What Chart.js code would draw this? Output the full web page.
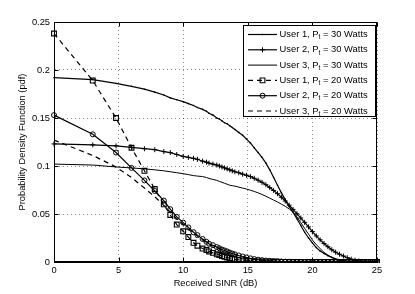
<!DOCTYPE html>
<html>
<head>
<meta charset="utf-8">
<script src="https://cdn.jsdelivr.net/npm/chart.js@4.4.0/dist/chart.umd.min.js"></script>
<style>
  html, body { margin: 0; padding: 0; background: #fff; }
  #wrap { width: 415px; height: 294px; }
</style>
</head>
<body>
<div id="wrap"><canvas id="pdfChart" width="415" height="294"></canvas></div>
<script>
// received SINR (dB) where the curves are sampled / marked
const sinrDb = [0, 3.0, 4.8, 6.0, 7.0, 7.8, 8.5, 9.0, 9.5, 10.0,
  10.4, 10.8, 11.1, 11.5, 11.8, 12.0, 12.3, 12.6, 12.8, 13.0,
  13.2, 13.4, 13.6, 13.8, 14.0, 14.3, 14.6, 14.9, 15.2, 15.5,
  15.8, 16.1, 16.4, 16.7, 17.0, 17.3, 17.6, 17.9, 18.2, 18.5,
  18.8, 19.1, 19.4, 19.7, 20.0, 20.3, 20.6, 20.9, 21.2, 21.5,
  21.8, 22.1, 22.4, 22.7, 23.0, 23.3, 23.6, 23.9, 24.2, 24.5,
  24.8, 25.0];

const user1Pt30 = [0.192, 0.190, 0.186, 0.183, 0.180, 0.177, 0.174, 0.171, 0.169, 0.167,
  0.165, 0.163, 0.161, 0.159, 0.157, 0.155, 0.153, 0.150, 0.149, 0.147,
  0.145, 0.144, 0.142, 0.140, 0.138, 0.135, 0.132, 0.128, 0.124, 0.119,
  0.114, 0.109, 0.103, 0.096, 0.088, 0.080, 0.072, 0.065, 0.058, 0.052,
  0.045, 0.038, 0.031, 0.025, 0.020, 0.015, 0.0115, 0.0088, 0.0066, 0.0048,
  0.0033, 0.0022, 0.0013, 0.0007, 0.0003, 0.0001, 0, 0, 0, 0,
  0, 0];

const user2Pt30 = [0.123, 0.122, 0.121, 0.1195, 0.118, 0.117, 0.115, 0.114, 0.112, 0.110,
  0.109, 0.108, 0.107, 0.105, 0.104, 0.103, 0.102, 0.101, 0.100, 0.099,
  0.098, 0.097, 0.096, 0.095, 0.094, 0.093, 0.0915, 0.0903, 0.089, 0.0872,
  0.0852, 0.083, 0.0805, 0.0775, 0.0745, 0.0712, 0.0675, 0.0635, 0.0592, 0.0548,
  0.0503, 0.0458, 0.0413, 0.0365, 0.0317, 0.0272, 0.0231, 0.0193, 0.0159, 0.0128,
  0.0102, 0.0081, 0.0062, 0.0045, 0.003, 0.0019, 0.0011, 0.0006, 0.0003, 0.0001,
  0, 0];

const user3Pt30 = [0.102, 0.101, 0.099, 0.098, 0.097, 0.096, 0.095, 0.094, 0.093, 0.092,
  0.091, 0.090, 0.0895, 0.089, 0.088, 0.087, 0.086, 0.085, 0.084, 0.083,
  0.082, 0.081, 0.080, 0.0795, 0.079, 0.078, 0.077, 0.076, 0.0748, 0.0735,
  0.072, 0.0703, 0.0685, 0.0665, 0.0645, 0.0625, 0.0603, 0.058, 0.0553, 0.052,
  0.047, 0.041, 0.035, 0.029, 0.023, 0.018, 0.014, 0.010, 0.0072, 0.0048,
  0.003, 0.0018, 0.001, 0.0005, 0.0002, 0.0001, 0, 0, 0, 0,
  0, 0];

const user1Pt20 = [0.238, 0.189, 0.150, 0.119, 0.095, 0.076, 0.060, 0.049, 0.039, 0.032,
  0.026, 0.020, 0.017, 0.014, 0.0125, 0.011, 0.0095, 0.008, 0.0073, 0.0062,
  0.0054, 0.0047, 0.004, 0.0034, 0.0028, 0.0022, 0.0017, 0.0013, 0.001, 0.0008,
  0.0006, 0.0005, 0.0004, 0.0003, 0.0002, 0.0002, 0.0001, 0.0001, 0, 0,
  0, 0, 0, 0, 0, 0, 0, 0, 0, 0,
  0, 0, 0, 0, 0, 0, 0, 0, 0, 0,
  0, 0];

const user2Pt20 = [0.153, 0.133, 0.114, 0.098, 0.085, 0.074, 0.064, 0.055, 0.047, 0.041,
  0.036, 0.031, 0.028, 0.024, 0.021, 0.019, 0.0175, 0.0155, 0.0143, 0.013,
  0.012, 0.011, 0.0098, 0.0088, 0.008, 0.0068, 0.0057, 0.0047, 0.0038, 0.003,
  0.0024, 0.0019, 0.0015, 0.0012, 0.0009, 0.0007, 0.0005, 0.0004, 0.0003, 0.0002,
  0.0001, 0.0001, 0, 0, 0, 0, 0, 0, 0, 0,
  0, 0, 0, 0, 0, 0, 0, 0, 0, 0,
  0, 0];

const user3Pt20 = [0.127, 0.111, 0.099, 0.088, 0.077, 0.068, 0.059, 0.052, 0.045, 0.039,
  0.034, 0.030, 0.027, 0.023, 0.020, 0.018, 0.0165, 0.0148, 0.0137, 0.0125,
  0.0115, 0.0105, 0.0094, 0.0085, 0.0077, 0.0065, 0.0055, 0.0045, 0.0036, 0.0029,
  0.0023, 0.0018, 0.0014, 0.0011, 0.0008, 0.0006, 0.0005, 0.0004, 0.0003, 0.0002,
  0.0001, 0.0001, 0, 0, 0, 0, 0, 0, 0, 0,
  0, 0, 0, 0, 0, 0, 0, 0, 0, 0,
  0, 0];

const xTicks = [0, 5, 10, 15, 20, 25];
const yTicks = [0, 0.05, 0.1, 0.15, 0.2, 0.25];
const yTickLabels = ['0', '0.05', '0.1', '0.15', '0.2', '0.25'];

const legendUsers = ['User 1', 'User 2', 'User 3', 'User 1', 'User 2', 'User 3'];
const legendWatts = [30, 30, 30, 20, 20, 20];

const FONT = '"Liberation Sans", Arial, Helvetica, sans-serif';
const DASH = [5, 4];

function pts(ys) {
  return sinrDb.map((x, i) => ({ x: x, y: ys[i] }));
}

const base = {
  borderColor: '#000',
  borderWidth: 1.2,
  tension: 0,
  pointBorderColor: '#000',
  pointBackgroundColor: 'rgba(0,0,0,0)',
  pointBorderWidth: 1,
  clip: { left: 6, top: 6, right: 6, bottom: 1 },
};

const datasets = [
  { ...base, data: pts(user1Pt30), pointStyle: 'circle', pointRadius: 0.8, pointBackgroundColor: '#000', pointBorderWidth: 0 },
  { ...base, data: pts(user2Pt30), pointStyle: 'cross', pointRadius: 2.5 },
  { ...base, data: pts(user3Pt30), borderWidth: 1, pointRadius: 0 },
  { ...base, data: pts(user1Pt20), borderDash: DASH, pointStyle: 'rect', pointRadius: 3.4, pointBorderWidth: 1.1 },
  { ...base, data: pts(user2Pt20), pointStyle: 'circle', pointRadius: 2.5 },
  { ...base, data: pts(user3Pt20), borderDash: DASH, pointRadius: 0 },
];

// box round the plot, inward ticks on all four sides, and the legend
const frame = {
  id: 'frame',
  afterDraw(chart) {
    const { ctx, chartArea: a, scales: { x, y } } = chart;
    const L = Math.round(a.left) + 0.5, R = Math.round(a.right) - 0.5;
    const T = Math.round(a.top) + 0.5, B = Math.round(a.bottom) - 0.5;
    ctx.save();
    ctx.strokeStyle = '#000';
    ctx.lineWidth = 1;
    ctx.strokeRect(L, T, R - L, B - T);
    ctx.beginPath();
    xTicks.forEach(v => {
      const px = Math.round(x.getPixelForValue(v)) + 0.5;
      ctx.moveTo(px, B); ctx.lineTo(px, B - 4);
      ctx.moveTo(px, T); ctx.lineTo(px, T + 4);
    });
    yTicks.forEach(v => {
      const py = Math.round(y.getPixelForValue(v)) + 0.5;
      ctx.moveTo(L, py); ctx.lineTo(L + 4, py);
      ctx.moveTo(R, py); ctx.lineTo(R - 4, py);
    });
    ctx.stroke();

    // legend
    const bx = 243.5, by = 25.5, bw = 132, bh = 91;
    ctx.fillStyle = '#fff';
    ctx.fillRect(bx, by, bw, bh);
    ctx.strokeRect(bx, by, bw, bh);
    datasets.forEach((ds, i) => {
      const ry = 34.5 + i * 15.3;
      ctx.save();
      ctx.strokeStyle = '#000';
      ctx.lineWidth = ds.borderWidth;
      ctx.setLineDash(ds.borderDash || []);
      ctx.beginPath();
      ctx.moveTo(248, ry); ctx.lineTo(277, ry);
      ctx.stroke();
      ctx.restore();
      if (ds.pointRadius > 0) {
        ctx.save();
        ctx.strokeStyle = '#000';
        ctx.fillStyle = ds.pointBackgroundColor;
        ctx.lineWidth = ds.pointBorderWidth;
        Chart.helpers.drawPoint(ctx, {
          pointStyle: ds.pointStyle, radius: ds.pointRadius, rotation: 0,
          borderWidth: ds.pointBorderWidth
        }, 262.5, ry);
        ctx.restore();
      }
      ctx.fillStyle = '#000';
      ctx.textBaseline = 'middle';
      ctx.font = '9.4px ' + FONT;
      let tx = 279.5;
      const head = legendUsers[i] + ', P';
      ctx.fillText(head, tx, ry);
      tx += ctx.measureText(head).width;
      ctx.font = '6.5px ' + FONT;
      ctx.fillText('t', tx, ry + 3);
      tx += ctx.measureText('t').width;
      ctx.font = '9.4px ' + FONT;
      ctx.fillText(' = ' + legendWatts[i] + ' Watts', tx, ry);
    });
    ctx.restore();
  }
};

new Chart(document.getElementById('pdfChart'), {
  type: 'line',
  data: { datasets: datasets },
  options: {
    responsive: false,
    animation: false,
    events: [],
    layout: { padding: { top: 22, right: 38, left: 0, bottom: 0 } },
    plugins: { legend: { display: false }, tooltip: { enabled: false } },
    scales: {
      x: {
        type: 'linear',
        min: 0,
        max: 25,
        afterBuildTicks: s => { s.ticks = xTicks.map(v => ({ value: v })); },
        afterFit: s => { s.height = 32; },
        ticks: { color: '#000', font: { family: FONT, size: 9.3 }, padding: 3, maxRotation: 0, autoSkip: false },
        grid: { color: 'rgba(0,0,0,0.45)', lineWidth: 1, drawTicks: false },
        border: { display: true, color: '#000', width: 1, dash: [1, 3] },
        title: { display: true, text: 'Received SINR (dB)', color: '#000', font: { family: FONT, size: 9.3 }, padding: { top: 0, bottom: 5 } }
      },
      y: {
        min: 0,
        max: 0.25,
        afterBuildTicks: s => { s.ticks = yTicks.map(v => ({ value: v })); },
        afterFit: s => { s.width = 54; },
        ticks: { color: '#000', font: { family: FONT, size: 9.3 }, padding: 4, callback: (v, i) => yTickLabels[i] },
        grid: { color: 'rgba(0,0,0,0.45)', lineWidth: 1, drawTicks: false },
        border: { display: true, color: '#000', width: 1, dash: [1, 3] },
        title: { display: true, text: 'Probability Density Function (pdf)', color: '#000', font: { family: FONT, size: 9.3 }, padding: { top: 17, bottom: 0 } }
      }
    }
  },
  plugins: [frame]
});
</script>
</body>
</html>
